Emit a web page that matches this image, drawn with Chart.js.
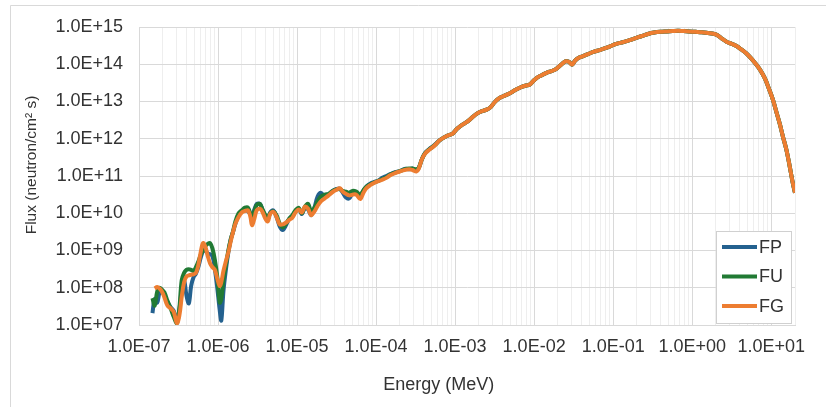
<!DOCTYPE html>
<html>
<head>
<meta charset="utf-8">
<title>Neutron flux spectrum</title>
<script src="https://cdn.jsdelivr.net/npm/chart.js@4.4.1/dist/chart.umd.min.js"></script>
<style>
  html, body { margin: 0; padding: 0; background: #ffffff; }
  #wrap { width: 826px; height: 407px; position: relative; }
</style>
</head>
<body>
<div id="wrap"><canvas id="chart" width="826" height="407"></canvas></div>
<script>
// Energy grid (MeV) for the resonance / epithermal part, where the three spectra differ
const energyLow = [
  1.48e-7, 1.58e-7, 1.70e-7, 1.82e-7, 1.95e-7, 2.09e-7, 2.29e-7, 2.51e-7, 2.75e-7, 3.02e-7,
  3.24e-7, 3.47e-7, 3.72e-7, 3.98e-7, 4.27e-7, 4.57e-7, 4.90e-7, 5.25e-7, 5.62e-7, 6.03e-7,
  6.46e-7, 6.92e-7, 7.41e-7, 7.94e-7, 8.51e-7, 9.12e-7, 9.77e-7, 1.05e-6, 1.10e-6, 1.17e-6,
  1.26e-6, 1.35e-6, 1.45e-6, 1.55e-6, 1.66e-6, 1.82e-6, 2.00e-6, 2.19e-6, 2.40e-6, 2.57e-6,
  2.69e-6, 2.88e-6, 3.09e-6, 3.39e-6, 3.63e-6, 3.98e-6, 4.27e-6, 4.57e-6, 5.01e-6, 5.50e-6,
  6.03e-6, 6.61e-6, 7.24e-6, 7.94e-6, 8.71e-6, 9.55e-6, 1.05e-5, 1.15e-5, 1.26e-5, 1.38e-5,
  1.51e-5, 1.66e-5, 1.82e-5, 2.00e-5, 2.24e-5, 2.51e-5, 2.82e-5, 3.16e-5, 3.47e-5, 3.80e-5,
  4.17e-5, 4.57e-5, 5.01e-5, 5.62e-5, 6.31e-5, 6.92e-5, 7.59e-5, 8.51e-5, 9.55e-5, 1.07e-4,
  1.20e-4, 1.35e-4, 1.51e-4, 1.74e-4, 2.00e-4, 2.29e-4, 2.63e-4, 2.88e-4, 3.24e-4, 3.47e-4,
  3.80e-4, 4.17e-4, 4.68e-4, 5.25e-4, 5.75e-4
];

// Flux (neutron/cm2 s) on energyLow for each case
const fluxLowFP = [
  2.09e7, 5.01e7, 3.98e7, 7.59e7, 8.71e7, 6.31e7, 4.17e7, 3.02e7, 2.40e7, 1.26e7,
  2.51e7, 8.91e7, 1.58e8, 6.31e7, 3.80e7, 1.12e8, 1.91e8, 2.40e8, 3.55e8, 6.31e8,
  9.55e8, 1.00e9, 8.32e8, 7.94e8, 7.08e8, 3.16e8, 1.00e8, 2.51e7, 1.32e7, 7.94e7,
  3.16e8, 8.91e8, 2.00e9, 3.16e9, 5.25e9, 8.91e9, 1.12e10, 1.26e10, 1.12e10, 9.55e9,
  8.91e9, 1.26e10, 1.78e10, 1.78e10, 1.26e10, 7.94e9, 7.08e9, 1.05e10, 1.20e10, 7.94e9,
  4.47e9, 3.55e9, 4.79e9, 7.08e9, 8.32e9, 1.12e10, 1.32e10, 9.55e9, 1.41e10, 1.26e10,
  8.91e9, 1.41e10, 2.82e10, 3.55e10, 2.82e10, 3.16e10, 3.98e10, 4.47e10, 4.57e10, 3.55e10,
  2.63e10, 2.51e10, 3.31e10, 3.55e10, 2.95e10, 3.98e10, 5.25e10, 6.31e10, 6.92e10, 7.59e10,
  8.91e10, 1.00e11, 1.12e11, 1.26e11, 1.35e11, 1.55e11, 1.51e11, 1.58e11, 1.41e11, 1.66e11,
  2.82e11, 4.17e11, 5.25e11, 6.31e11, 7.41e11
];

const fluxLowFU = [
  5.25e7, 3.31e7, 7.94e7, 1.00e8, 8.91e7, 7.59e7, 4.47e7, 2.82e7, 1.66e7, 1.12e7,
  2.82e7, 1.58e8, 2.51e8, 3.02e8, 3.16e8, 3.02e8, 2.82e8, 3.55e8, 5.01e8, 7.59e8,
  1.00e9, 1.32e9, 1.51e9, 1.58e9, 1.12e9, 5.62e8, 2.00e8, 3.98e7, 5.01e7, 1.58e8,
  4.17e8, 1.00e9, 2.00e9, 3.31e9, 6.03e9, 1.00e10, 1.20e10, 1.41e10, 1.41e10, 9.55e9,
  8.32e9, 1.12e10, 1.66e10, 1.78e10, 1.32e10, 8.91e9, 7.08e9, 1.00e10, 1.12e10, 8.91e9,
  5.25e9, 4.17e9, 5.25e9, 7.08e9, 8.91e9, 1.20e10, 1.41e10, 1.00e10, 1.51e10, 1.78e10,
  1.12e10, 1.41e10, 2.09e10, 2.82e10, 3.16e10, 3.31e10, 3.98e10, 4.37e10, 4.47e10, 3.98e10,
  3.80e10, 3.55e10, 3.98e10, 3.80e10, 3.16e10, 4.17e10, 5.25e10, 6.03e10, 6.76e10, 7.41e10,
  8.32e10, 9.33e10, 1.10e11, 1.23e11, 1.35e11, 1.51e11, 1.58e11, 1.58e11, 1.51e11, 1.66e11,
  2.82e11, 4.07e11, 5.13e11, 6.17e11, 7.24e11
];

const fluxLowFG = [
  null,   9.55e7, 1.05e8, 9.55e7, 7.94e7, 5.62e7, 3.31e7, 2.82e7, 2.24e7, 1.12e7,
  1.78e7, 5.62e7, 1.41e8, 2.00e8, 2.14e8, 2.24e8, 2.29e8, 2.51e8, 3.98e8, 8.91e8,
  1.58e9, 1.26e9, 7.08e8, 4.47e8, 3.55e8, 3.02e8, 1.78e8, 1.12e8, 1.41e8, 2.82e8,
  5.25e8, 8.91e8, 1.78e9, 3.16e9, 5.25e9, 7.94e9, 1.05e10, 1.15e10, 1.20e10, 7.94e9,
  4.79e9, 7.08e9, 1.20e10, 1.32e10, 1.12e10, 7.08e9, 6.03e9, 9.55e9, 1.10e10, 7.94e9,
  5.01e9, 5.01e9, 5.62e9, 6.61e9, 7.59e9, 1.05e10, 1.26e10, 1.05e10, 1.51e10, 1.32e10,
  8.91e9, 1.12e10, 1.58e10, 2.09e10, 2.51e10, 3.02e10, 3.72e10, 4.27e10, 4.68e10, 3.80e10,
  3.31e10, 3.02e10, 3.16e10, 3.16e10, 2.40e10, 3.55e10, 4.79e10, 5.75e10, 6.61e10, 7.24e10,
  7.94e10, 8.91e10, 1.05e11, 1.20e11, 1.32e11, 1.45e11, 1.51e11, 1.45e11, 1.32e11, 1.58e11,
  2.82e11, 3.98e11, 5.01e11, 6.03e11, 7.24e11
];

// Fast part of the spectrum, common to the three cases
const energyHigh = [
  6.38e-4, 7.94e-4, 9.33e-4, 1.05e-3, 1.20e-3, 1.41e-3, 1.66e-3, 1.91e-3, 2.19e-3, 2.51e-3,
  2.82e-3, 3.16e-3, 3.55e-3, 4.07e-3, 4.68e-3, 5.37e-3, 6.17e-3, 7.08e-3, 7.94e-3, 8.71e-3,
  9.77e-3, 1.07e-2, 1.23e-2, 1.41e-2, 1.62e-2, 1.82e-2, 2.04e-2, 2.29e-2, 2.51e-2, 2.75e-2,
  3.02e-2, 3.31e-2, 3.72e-2, 4.17e-2, 4.90e-2, 5.75e-2, 6.76e-2, 7.94e-2, 9.12e-2, 0.107,
  0.126, 0.148, 0.174, 0.204, 0.240, 0.282, 0.331, 0.398, 0.479, 0.562,
  0.661, 0.776, 0.912, 1.10, 1.32, 1.58, 1.86, 2.09, 2.40, 2.75,
  3.16, 3.63, 4.17, 4.79, 5.50, 6.31, 7.24, 8.32, 9.33, 10.5,
  11.7, 12.9, 14.1, 15.5, 17.0, 18.6, 20.0
];

const fluxHigh = [
  9.12e11, 1.20e12, 1.38e12, 1.82e12, 2.29e12, 2.82e12, 3.80e12, 4.79e12, 5.50e12, 6.03e12,
  7.08e12, 9.55e12, 1.20e13, 1.38e13, 1.58e13, 1.86e13, 2.19e13, 2.51e13, 2.69e13, 2.82e13,
  3.55e13, 4.27e13, 5.01e13, 5.75e13, 6.46e13, 7.08e13, 8.51e13, 1.05e14, 1.20e14, 1.17e14,
  9.77e13, 1.26e14, 1.51e14, 1.66e14, 1.91e14, 2.19e14, 2.40e14, 2.69e14, 3.02e14, 3.47e14,
  3.80e14, 4.17e14, 4.68e14, 5.25e14, 5.89e14, 6.61e14, 7.08e14, 7.41e14, 7.59e14, 7.76e14,
  7.94e14, 7.76e14, 7.59e14, 7.41e14, 7.24e14, 6.92e14, 6.61e14, 6.03e14, 4.79e14, 3.98e14,
  3.55e14, 3.09e14, 2.51e14, 2.00e14, 1.48e14, 1.05e14, 7.08e13, 4.17e13, 2.24e13, 1.12e13,
  5.01e12, 2.40e12, 1.12e12, 5.25e11, 2.00e11, 7.08e10, 3.55e10
];

const seriesNames = ['FP', 'FU', 'FG'];
const seriesColors = ['#24618f', '#217a34', '#ed7d31'];
const seriesLow = [fluxLowFP, fluxLowFU, fluxLowFG];

const xRange = [1e-7, 20];
const yRange = [1e7, 1e15];
const xTitle = 'Energy (MeV)';
const yTitle = 'Flux (neutron/cm\u00b2 s)';

const textColor = '#333333';
const fontFamily = '"Liberation Sans", Arial, sans-serif';

function isDecade(v) {
  const l = Math.log10(v);
  return Math.abs(l - Math.round(l)) < 1e-6;
}
function isWholeMantissa(v) {
  const m = v / Math.pow(10, Math.floor(Math.log10(v) + 1e-9));
  return Math.abs(m - Math.round(m)) < 1e-6;
}
function sciLabel(v) {
  const e = Math.round(Math.log10(v));
  const sign = e < 0 ? '-' : '+';
  const digits = String(Math.abs(e)).padStart(2, '0');
  return '1.0E' + sign + digits;
}

function buildPoints(lowFlux) {
  const pts = [];
  energyLow.forEach((e, i) => { if (lowFlux[i] !== null) pts.push({ x: e, y: lowFlux[i] }); });
  energyHigh.forEach((e, i) => pts.push({ x: e, y: fluxHigh[i] }));
  return pts;
}

const datasets = seriesNames.map((name, i) => ({
  label: name,
  data: buildPoints(seriesLow[i]),
  borderColor: seriesColors[i],
  backgroundColor: seriesColors[i],
  borderWidth: 4,
  pointRadius: 0,
  tension: 0.35,
  fill: false,
  order: seriesNames.length - 1 - i
}));

// Outer frame of the chart
const framePlugin = {
  id: 'frame',
  beforeDraw(chart) {
    const c = chart.ctx;
    c.save();
    c.fillStyle = '#ffffff';
    c.fillRect(0, 0, chart.width, chart.height);
    c.strokeStyle = '#d9d9d9';
    c.lineWidth = 1;
    c.beginPath();
    c.moveTo(10.5, chart.height);
    c.lineTo(10.5, 5.5);
    c.lineTo(chart.width, 5.5);
    c.stroke();
    c.restore();
  }
};

// Axis titles, placed relative to the plot area
const axisTitlePlugin = {
  id: 'axisTitles',
  afterDraw(chart) {
    const c = chart.ctx;
    const a = chart.chartArea;
    c.save();
    c.fillStyle = textColor;
    c.textAlign = 'center';
    c.textBaseline = 'middle';
    c.font = '18px ' + fontFamily;
    c.fillText(xTitle, a.left + 0.457 * (a.right - a.left), chart.height - 22);
    c.translate(32, a.top + 0.463 * (a.bottom - a.top));
    c.rotate(-Math.PI / 2);
    c.font = '15.5px ' + fontFamily;
    c.fillText(yTitle, 0, 0);
    c.restore();
  }
};

// Boxed legend in the lower right corner of the plot area
const boxLegendPlugin = {
  id: 'boxLegend',
  afterDatasetsDraw(chart) {
    const c = chart.ctx;
    const area = chart.chartArea;
    const ds = chart.data.datasets;
    const w = 75, rowH = 29.5, h = 92;
    const x0 = area.right - 4 - w;
    const y0 = area.bottom - 2 - h;
    c.save();
    c.fillStyle = '#ffffff';
    c.fillRect(x0, y0, w, h);
    c.strokeStyle = '#d0d0d0';
    c.lineWidth = 1;
    c.strokeRect(Math.round(x0) + 0.5, Math.round(y0) + 0.5, w, h);
    c.font = '18px ' + fontFamily;
    c.textBaseline = 'middle';
    c.fillStyle = textColor;
    ds.forEach((d, i) => {
      const cy = y0 + 16 + i * rowH;
      c.strokeStyle = d.borderColor;
      c.lineWidth = 4;
      c.beginPath();
      c.moveTo(x0 + 6, cy);
      c.lineTo(x0 + 41, cy);
      c.stroke();
      c.fillText(d.label, x0 + 43, cy + 1);
    });
    c.restore();
  }
};

new Chart(document.getElementById('chart'), {
  type: 'line',
  data: { datasets },
  plugins: [framePlugin, boxLegendPlugin, axisTitlePlugin],
  options: {
    responsive: false,
    animation: false,
    events: [],
    layout: { padding: { left: 0, right: 31, top: 27, bottom: 0 } },
    plugins: {
      legend: { display: false },
      tooltip: { enabled: false },
      title: { display: false }
    },
    scales: {
      x: {
        type: 'logarithmic',
        min: xRange[0],
        max: xRange[1],
        afterBuildTicks(scale) {
          scale.ticks = scale.ticks.filter(t => isWholeMantissa(t.value));
        },
        afterFit(scale) { scale.height = 82; },
        grid: {
          drawTicks: false,
          color: ctx => (ctx.tick && isDecade(ctx.tick.value)) ? '#d9d9d9' : '#eeeeee',
          lineWidth: 1
        },
        border: { color: '#d9d9d9' },
        ticks: {
          autoSkip: false,
          maxRotation: 0,
          minRotation: 0,
          padding: 11,
          color: textColor,
          font: { family: fontFamily, size: 18 },
          callback: v => isDecade(v) ? sciLabel(v) : ''
        },
        title: { display: false }
      },
      y: {
        type: 'logarithmic',
        min: yRange[0],
        max: yRange[1],
        afterBuildTicks(scale) {
          scale.ticks = scale.ticks.filter(t => isDecade(t.value));
        },
        afterFit(scale) { scale.width = 139; },
        grid: { drawTicks: false, color: '#d9d9d9', lineWidth: 1 },
        border: { color: '#d9d9d9' },
        ticks: {
          autoSkip: false,
          padding: 16,
          color: textColor,
          font: { family: fontFamily, size: 18 },
          callback: v => sciLabel(v)
        },
        title: { display: false }
      }
    }
  }
});
</script>
</body>
</html>
